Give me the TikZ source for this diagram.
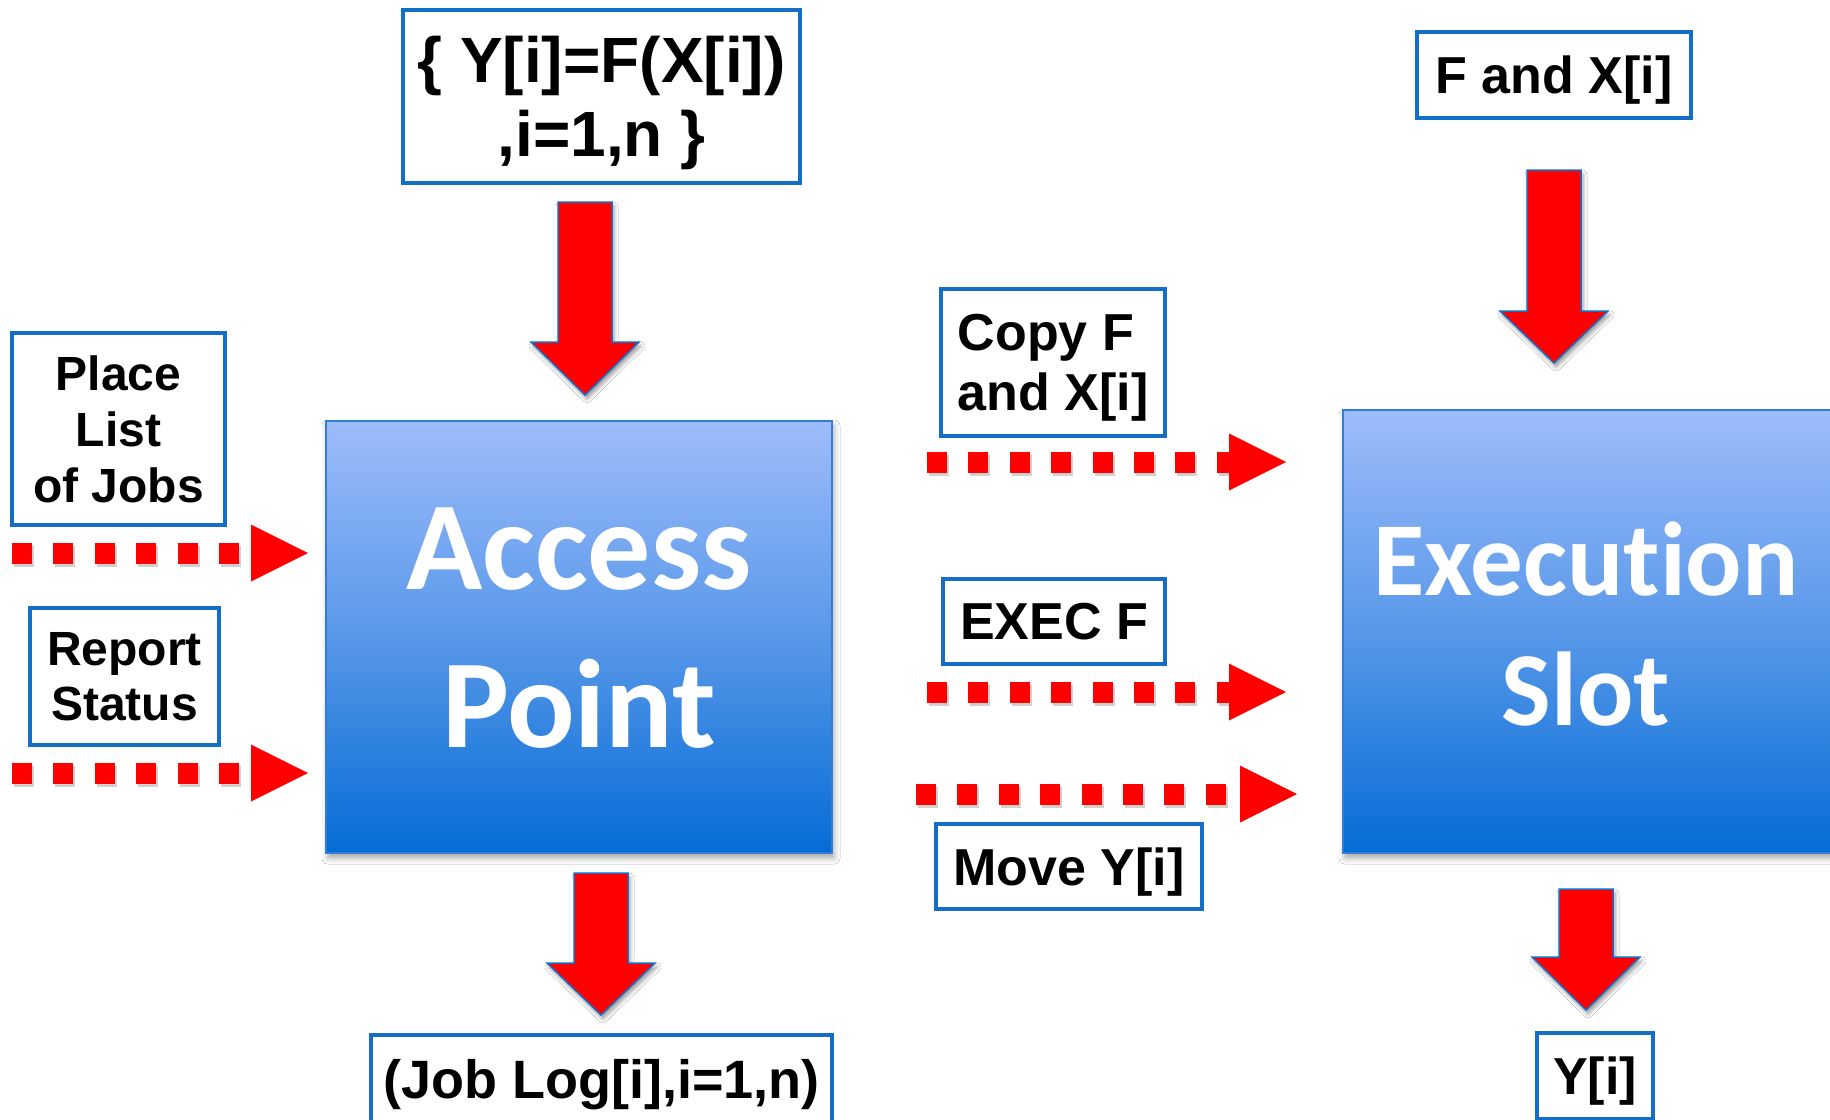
\documentclass[tikz,border=0pt]{standalone}
\usepackage{fontspec}
\setmainfont{Liberation Sans}
\newfontfamily\calibfont[Ligatures=NoCommon]{Carlito}
\usetikzlibrary{shadows.blur,calc}

\definecolor{boxblue}{RGB}{20,110,200}
\definecolor{edgeblue}{RGB}{50,125,215}
\definecolor{gtop}{RGB}{158,188,251}
\definecolor{gmid}{RGB}{88,152,233}
\definecolor{gbot}{RGB}{4,108,213}
\definecolor{arrred}{RGB}{255,0,0}

\newcommand\fatarrow[5]{% #1 name of top coordinate (x center, top y), #2 x, #3 top y, #4 head base y, #5 tip y
  \coordinate (#1) at (#2,#3);
  \draw[blockarrow] (#1) ++(-27,0) -- ++(54,0) -- (#2+27,#4) -- (#2+54,#4) -- (#2,#5) -- (#2-54,#4) -- (#2-27,#4) -- cycle;}

\newcommand\dotarrow[3]{% #1 start coordinate, #2 tip coordinate, #3 number of squares
  \draw[sqshadow] ($(#1)+(2,3)$) -- ++(#3*41.4-21.4,0);
  \draw[sqline] (#1) -- ++(#3*41.4-21.4,0);
  \fill[arrred] (#2) -- ++(-57,-28.5) -- ++(0,57) -- cycle;}

\begin{document}
\begin{tikzpicture}[x=1pt,y=-1pt,
  lbl/.style={draw=boxblue, line width=4.5pt, fill=white, inner sep=0pt, text depth=0pt,
    font=\bfseries\fontsize{52pt}{60pt}\selectfont, align=center},
  bigbox/.style={draw=edgeblue, line width=1.5pt, top color=gtop, bottom color=gbot, middle color=gmid,
    blur shadow={shadow xshift=2pt, shadow yshift=-5pt, shadow blur radius=6pt, shadow opacity=35}},
  bigtext/.style={text=white, inner sep=0pt, align=center},
  blockarrow/.style={fill=arrred, draw=boxblue, line width=1.5pt, line join=miter,
    blur shadow={shadow xshift=2pt, shadow yshift=-4pt, shadow blur radius=4pt, shadow opacity=40}},
  sqline/.style={draw=arrred, line width=21pt, dash pattern=on 20pt off 21.4pt},
  sqshadow/.style={draw=black, opacity=0.18, line width=21pt, dash pattern=on 20pt off 21.4pt},
]
\useasboundingbox (0,0) rectangle (1830,1119);
\fill[white] (0,0) rectangle (1830,1119);
\clip (0,0) rectangle (1830,1119);

% big boxes
\node[bigbox, minimum width=506pt, minimum height=432pt] (ap) at (579,637) {};
\node[bigtext, font=\calibfont\bfseries\fontsize{126pt}{158pt}\selectfont] (aptext) at (579,628) {Access\\Point};
\node[bigbox, minimum width=488pt, minimum height=443pt] (es) at (1587,631.5) {};
\node[bigtext, font=\calibfont\bfseries\fontsize{105pt}{130pt}\selectfont] (estext) at (1586,624) {Execut\kern0pt ion\\Slot};

% label boxes
\node[lbl, minimum width=397pt, minimum height=173pt, font=\bfseries\fontsize{64pt}{74pt}\selectfont] (top) at (601.5,96.5) {\{ Y[i]=F(X[i])\\,i=1,n \}};
\node[lbl, minimum width=213pt, minimum height=192pt, font=\bfseries\fontsize{48pt}{56pt}\selectfont] (place) at (118.5,429) {Place\\List\\of Jobs};
\node[lbl, minimum width=189pt, minimum height=137pt, font=\bfseries\fontsize{48pt}{55pt}\selectfont] (report) at (124.5,676.5) {Report\\Status};
\node[lbl, minimum width=224pt, minimum height=147pt, align=left] (copy) at (1053,362.5) {Copy F\\and X[i]};
\node[lbl, minimum width=222pt, minimum height=85pt] (exec) at (1054,621.5) {EXEC F};
\node[lbl, minimum width=266pt, minimum height=85pt] (move) at (1069,866.5) {Move Y[i]};
\node[lbl, minimum width=274pt, minimum height=86pt] (fx) at (1554,75) {F and X[i]};
\node[lbl, minimum width=461pt, minimum height=87pt, font=\bfseries\fontsize{54pt}{60pt}\selectfont] (joblog) at (601.5,1078.5) {(Job Log[i],i=1,n)};
\node[lbl, minimum width=116pt, minimum height=86pt] (yi) at (1595,1076) {Y[i]};

% block arrows
\fatarrow{fa1}{585}{202}{342}{395}
\fatarrow{fa2}{601}{873}{963}{1015}
\fatarrow{fa3}{1554}{170}{311}{363}
\fatarrow{fa4}{1586}{889}{957}{1010}

% dotted arrows
\coordinate (d1s) at (12,553);  \coordinate (d1e) at (308,553);
\coordinate (d2s) at (12,773);  \coordinate (d2e) at (308,773);
\coordinate (d3s) at (927,462); \coordinate (d3e) at (1286,462);
\coordinate (d4s) at (927,692); \coordinate (d4e) at (1286,692);
\coordinate (d5s) at (916,794); \coordinate (d5e) at (1297,794);
\dotarrow{d1s}{d1e}{6}
\dotarrow{d2s}{d2e}{6}
\dotarrow{d3s}{d3e}{8}
\dotarrow{d4s}{d4e}{8}
\dotarrow{d5s}{d5e}{8}
\end{tikzpicture}
\end{document}
